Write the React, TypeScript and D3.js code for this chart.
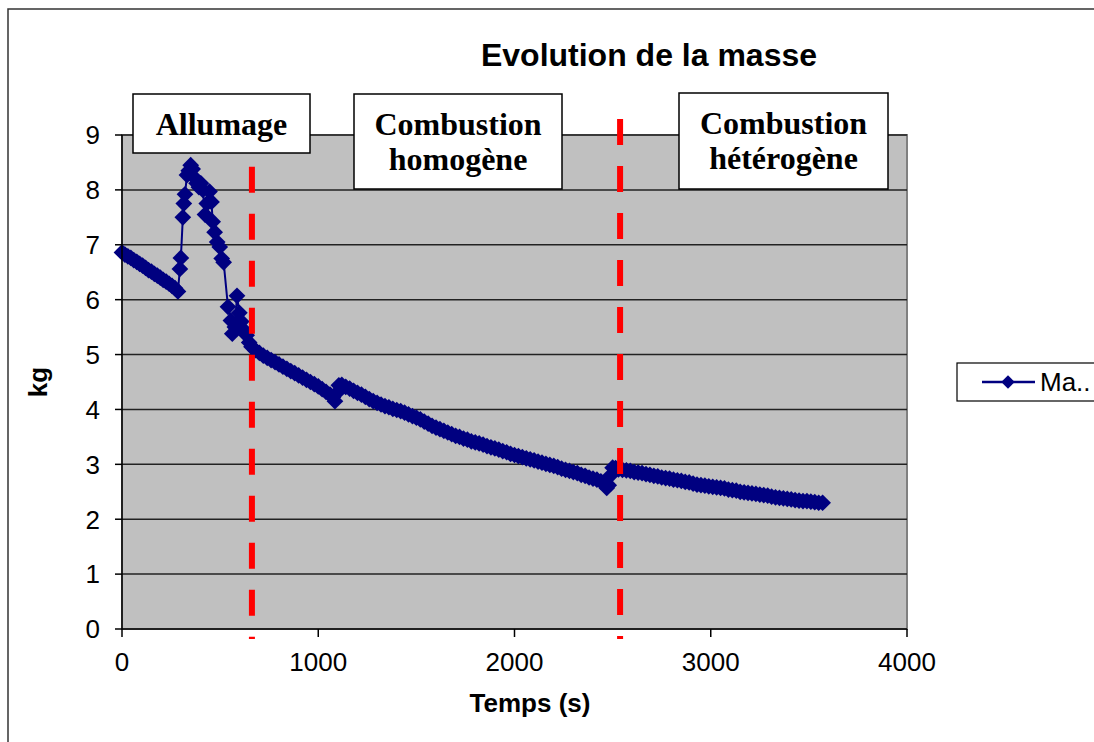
import React from "react";
import * as d3 from "d3";

// mass readings [time (s), mass (kg)]
const ignition: [number, number][] = [
  [0, 6.86], [15, 6.82], [30, 6.79], [45, 6.76], [60, 6.72], [75, 6.69], [90, 6.65],
  [105, 6.62], [120, 6.58], [135, 6.54], [150, 6.51], [165, 6.47], [180, 6.44],
  [195, 6.4], [210, 6.36], [225, 6.33], [240, 6.29], [255, 6.25], [270, 6.21], [285, 6.15],
  [295, 6.56], [300, 6.76], [310, 7.5], [315, 7.75], [321, 7.92], [331, 8.27], [340, 8.35],
  [350, 8.45], [360, 8.38], [370, 8.22], [380, 8.12], [392, 8.05], [402, 8.12], [412, 8.0],
  [423, 7.55], [432, 7.75], [446, 7.97], [456, 7.78], [462, 7.42], [472, 7.23], [485, 7.05],
  [498, 6.96], [508, 6.75], [518, 6.68], [540, 5.87], [555, 5.62], [562, 5.38], [575, 5.5],
  [586, 6.07], [598, 5.76], [608, 5.6], [620, 5.45], [635, 5.35], [648, 5.22],
];

const homogeneous: [number, number][] = [
  [660, 5.14], [680, 5.08], [700, 5.03], [720, 4.98], [740, 4.94], [760, 4.9], [780, 4.86],
  [800, 4.82], [820, 4.78], [840, 4.74], [860, 4.7], [880, 4.66], [900, 4.62], [920, 4.58],
  [940, 4.54], [960, 4.5], [980, 4.46], [1000, 4.42], [1020, 4.37], [1040, 4.32], [1060, 4.27],
  [1075, 4.22], [1085, 4.15], [1095, 4.3], [1105, 4.44], [1120, 4.45], [1140, 4.41],
  [1160, 4.38], [1180, 4.34], [1200, 4.3], [1220, 4.27], [1240, 4.23], [1260, 4.19],
  [1280, 4.15], [1300, 4.12], [1320, 4.09], [1340, 4.06], [1360, 4.04], [1380, 4.01],
  [1400, 3.99], [1420, 3.97], [1440, 3.94], [1460, 3.91], [1480, 3.88], [1500, 3.85],
  [1520, 3.82], [1540, 3.78], [1560, 3.74], [1580, 3.7], [1600, 3.67], [1620, 3.64],
  [1640, 3.61], [1660, 3.58], [1680, 3.55], [1700, 3.52], [1720, 3.5], [1740, 3.47],
  [1760, 3.45], [1780, 3.42], [1800, 3.4], [1820, 3.38], [1840, 3.36], [1860, 3.33],
  [1880, 3.31], [1900, 3.29], [1920, 3.27], [1940, 3.24], [1960, 3.22], [1980, 3.19],
  [2000, 3.17], [2020, 3.15], [2040, 3.13], [2060, 3.11], [2080, 3.09], [2100, 3.07],
  [2120, 3.05], [2140, 3.03], [2160, 3.01], [2180, 2.99], [2200, 2.97], [2220, 2.95],
  [2240, 2.92], [2260, 2.9], [2280, 2.88], [2300, 2.86], [2320, 2.84], [2340, 2.81],
  [2360, 2.79], [2380, 2.76], [2400, 2.74], [2420, 2.72], [2440, 2.69], [2455, 2.66],
  [2470, 2.57], [2480, 2.62], [2490, 2.8], [2500, 2.94], [2515, 2.93], [2530, 2.91],
];

const heterogeneous: [number, number][] = [
  [2550, 2.9], [2570, 2.89], [2590, 2.88], [2610, 2.86], [2630, 2.85], [2650, 2.84],
  [2670, 2.82], [2690, 2.81], [2710, 2.79], [2730, 2.78], [2750, 2.76], [2770, 2.75],
  [2790, 2.74], [2810, 2.72], [2830, 2.71], [2850, 2.7], [2870, 2.68], [2890, 2.67],
  [2910, 2.65], [2930, 2.63], [2950, 2.62], [2970, 2.61], [2990, 2.6], [3010, 2.59],
  [3030, 2.58], [3050, 2.57], [3070, 2.56], [3090, 2.54], [3110, 2.53], [3130, 2.52],
  [3150, 2.5], [3170, 2.49], [3190, 2.48], [3210, 2.47], [3230, 2.46], [3250, 2.45],
  [3270, 2.44], [3290, 2.43], [3310, 2.41], [3330, 2.4], [3350, 2.39], [3370, 2.38],
  [3390, 2.37], [3410, 2.36], [3430, 2.35], [3450, 2.34], [3470, 2.33], [3490, 2.33],
  [3510, 2.32], [3530, 2.31], [3550, 2.3], [3570, 2.3],
];

const xTicks = [0, 1000, 2000, 3000, 4000];
const yTicks = [0, 1, 2, 3, 4, 5, 6, 7, 8, 9];

// phase boundaries (s) and the top of each red dashed line (kg)
const boundaries = [662, 2538];
const boundaryTops = [8.42, 9.29];

const phaseLabels = [["Allumage"], ["Combustion", "homogène"], ["Combustion", "hétérogène"]];

const W = 1094;
const H = 742;
const plot = { left: 122, right: 907, top: 135, bottom: 629 };

const x = d3.scaleLinear().domain([0, 4000]).range([plot.left, plot.right]);
const y = d3.scaleLinear().domain([0, 9]).range([plot.bottom, plot.top]);

const navy = "#000080";
const sans = "Arial, 'Liberation Sans', sans-serif";
const serif = "'Times New Roman', 'Liberation Serif', serif";

export default function App() {
  const data = [...ignition, ...homogeneous, ...heterogeneous];
  const line = d3.line<[number, number]>().x((d) => x(d[0])).y((d) => y(d[1]));
  const diamond = d3.symbol(d3.symbolSquare, 140)() as string;

  // boxes for the phase labels
  const boxes = [
    { x0: 133, x1: 310, y0: 94, y1: 153 },
    { x0: 354, x1: 562, y0: 94, y1: 189 },
    { x0: 679, x1: 888, y0: 93, y1: 189 },
  ];

  return (
    <svg width={W} height={H} style={{ position: "absolute", left: 0, top: 0 }}>
      <rect x={0} y={0} width={W} height={H} fill="#fff" />
      <rect x={8} y={9} width={W + 20} height={H + 20} fill="none" stroke="#333" strokeWidth={1.5} />

      {/* plot area */}
      <rect
        x={plot.left}
        y={plot.top}
        width={plot.right - plot.left}
        height={plot.bottom - plot.top}
        fill="#c0c0c0"
        stroke="#808080"
        strokeWidth={2}
      />
      {yTicks.slice(1).map((t) => (
        <line key={t} x1={plot.left} x2={plot.right} y1={y(t)} y2={y(t)} stroke="#222" strokeWidth={1.5} />
      ))}

      {/* series */}
      <path d={line(data) as string} fill="none" stroke={navy} strokeWidth={2} />
      {data.map((d, i) => (
        <path key={i} d={diamond} transform={`translate(${x(d[0])},${y(d[1])}) rotate(45)`} fill={navy} />
      ))}

      {/* axes */}
      <line x1={plot.left} x2={plot.left} y1={plot.top} y2={plot.bottom} stroke="#000" strokeWidth={1.5} />
      <line x1={plot.left} x2={plot.right} y1={plot.bottom} y2={plot.bottom} stroke="#000" strokeWidth={1.5} />
      {yTicks.map((t) => (
        <g key={t}>
          <line x1={plot.left - 7} x2={plot.left} y1={y(t)} y2={y(t)} stroke="#000" strokeWidth={1.5} />
          <text x={100} y={y(t) + 9.3} textAnchor="end" fontFamily={sans} fontSize={26}>
            {t}
          </text>
        </g>
      ))}
      {xTicks.map((t) => (
        <g key={t}>
          <line x1={x(t)} x2={x(t)} y1={plot.bottom} y2={plot.bottom + 8} stroke="#000" strokeWidth={1.5} />
          <text x={x(t)} y={671} textAnchor="middle" fontFamily={sans} fontSize={26}>
            {t}
          </text>
        </g>
      ))}

      {/* phase boundaries */}
      {boundaries.map((b, i) => (
        <line
          key={b}
          x1={x(b)}
          x2={x(b)}
          y1={y(boundaryTops[i])}
          y2={y(-0.18)}
          stroke="#ff0000"
          strokeWidth={6}
          strokeDasharray="26 21"
        />
      ))}

      {boxes.map((b, i) => (
        <g key={i}>
          <rect x={b.x0} y={b.y0} width={b.x1 - b.x0} height={b.y1 - b.y0} fill="#fff" stroke="#000" strokeWidth={1.5} />
          {phaseLabels[i].map((s, j) => (
            <text
              key={j}
              x={(b.x0 + b.x1) / 2}
              y={b.y0 + 41 + j * 35}
              textAnchor="middle"
              fontFamily={serif}
              fontWeight="bold"
              fontSize={32}
            >
              {s}
            </text>
          ))}
        </g>
      ))}

      {/* titles */}
      <text x={649} y={66} textAnchor="middle" fontFamily={sans} fontWeight="bold" fontSize={32}>
        Evolution de la masse
      </text>
      <text x={530} y={712} textAnchor="middle" fontFamily={sans} fontWeight="bold" fontSize={26}>
        Temps (s)
      </text>
      <text
        transform={`translate(47,${(plot.top + plot.bottom) / 2}) rotate(-90)`}
        textAnchor="middle"
        fontFamily={sans}
        fontWeight="bold"
        fontSize={26}
      >
        kg
      </text>

      {/* legend */}
      <rect x={957} y={363} width={150} height={38} fill="#fff" stroke="#000" strokeWidth={1.2} />
      <line x1={982} x2={1035} y1={382} y2={382} stroke={navy} strokeWidth={2.5} />
      <path d={d3.symbol(d3.symbolSquare, 90)() as string} transform="translate(1008,382) rotate(45)" fill={navy} />
      <text x={1040} y={391} fontFamily={sans} fontSize={26}>
        Ma..
      </text>
    </svg>
  );
}
